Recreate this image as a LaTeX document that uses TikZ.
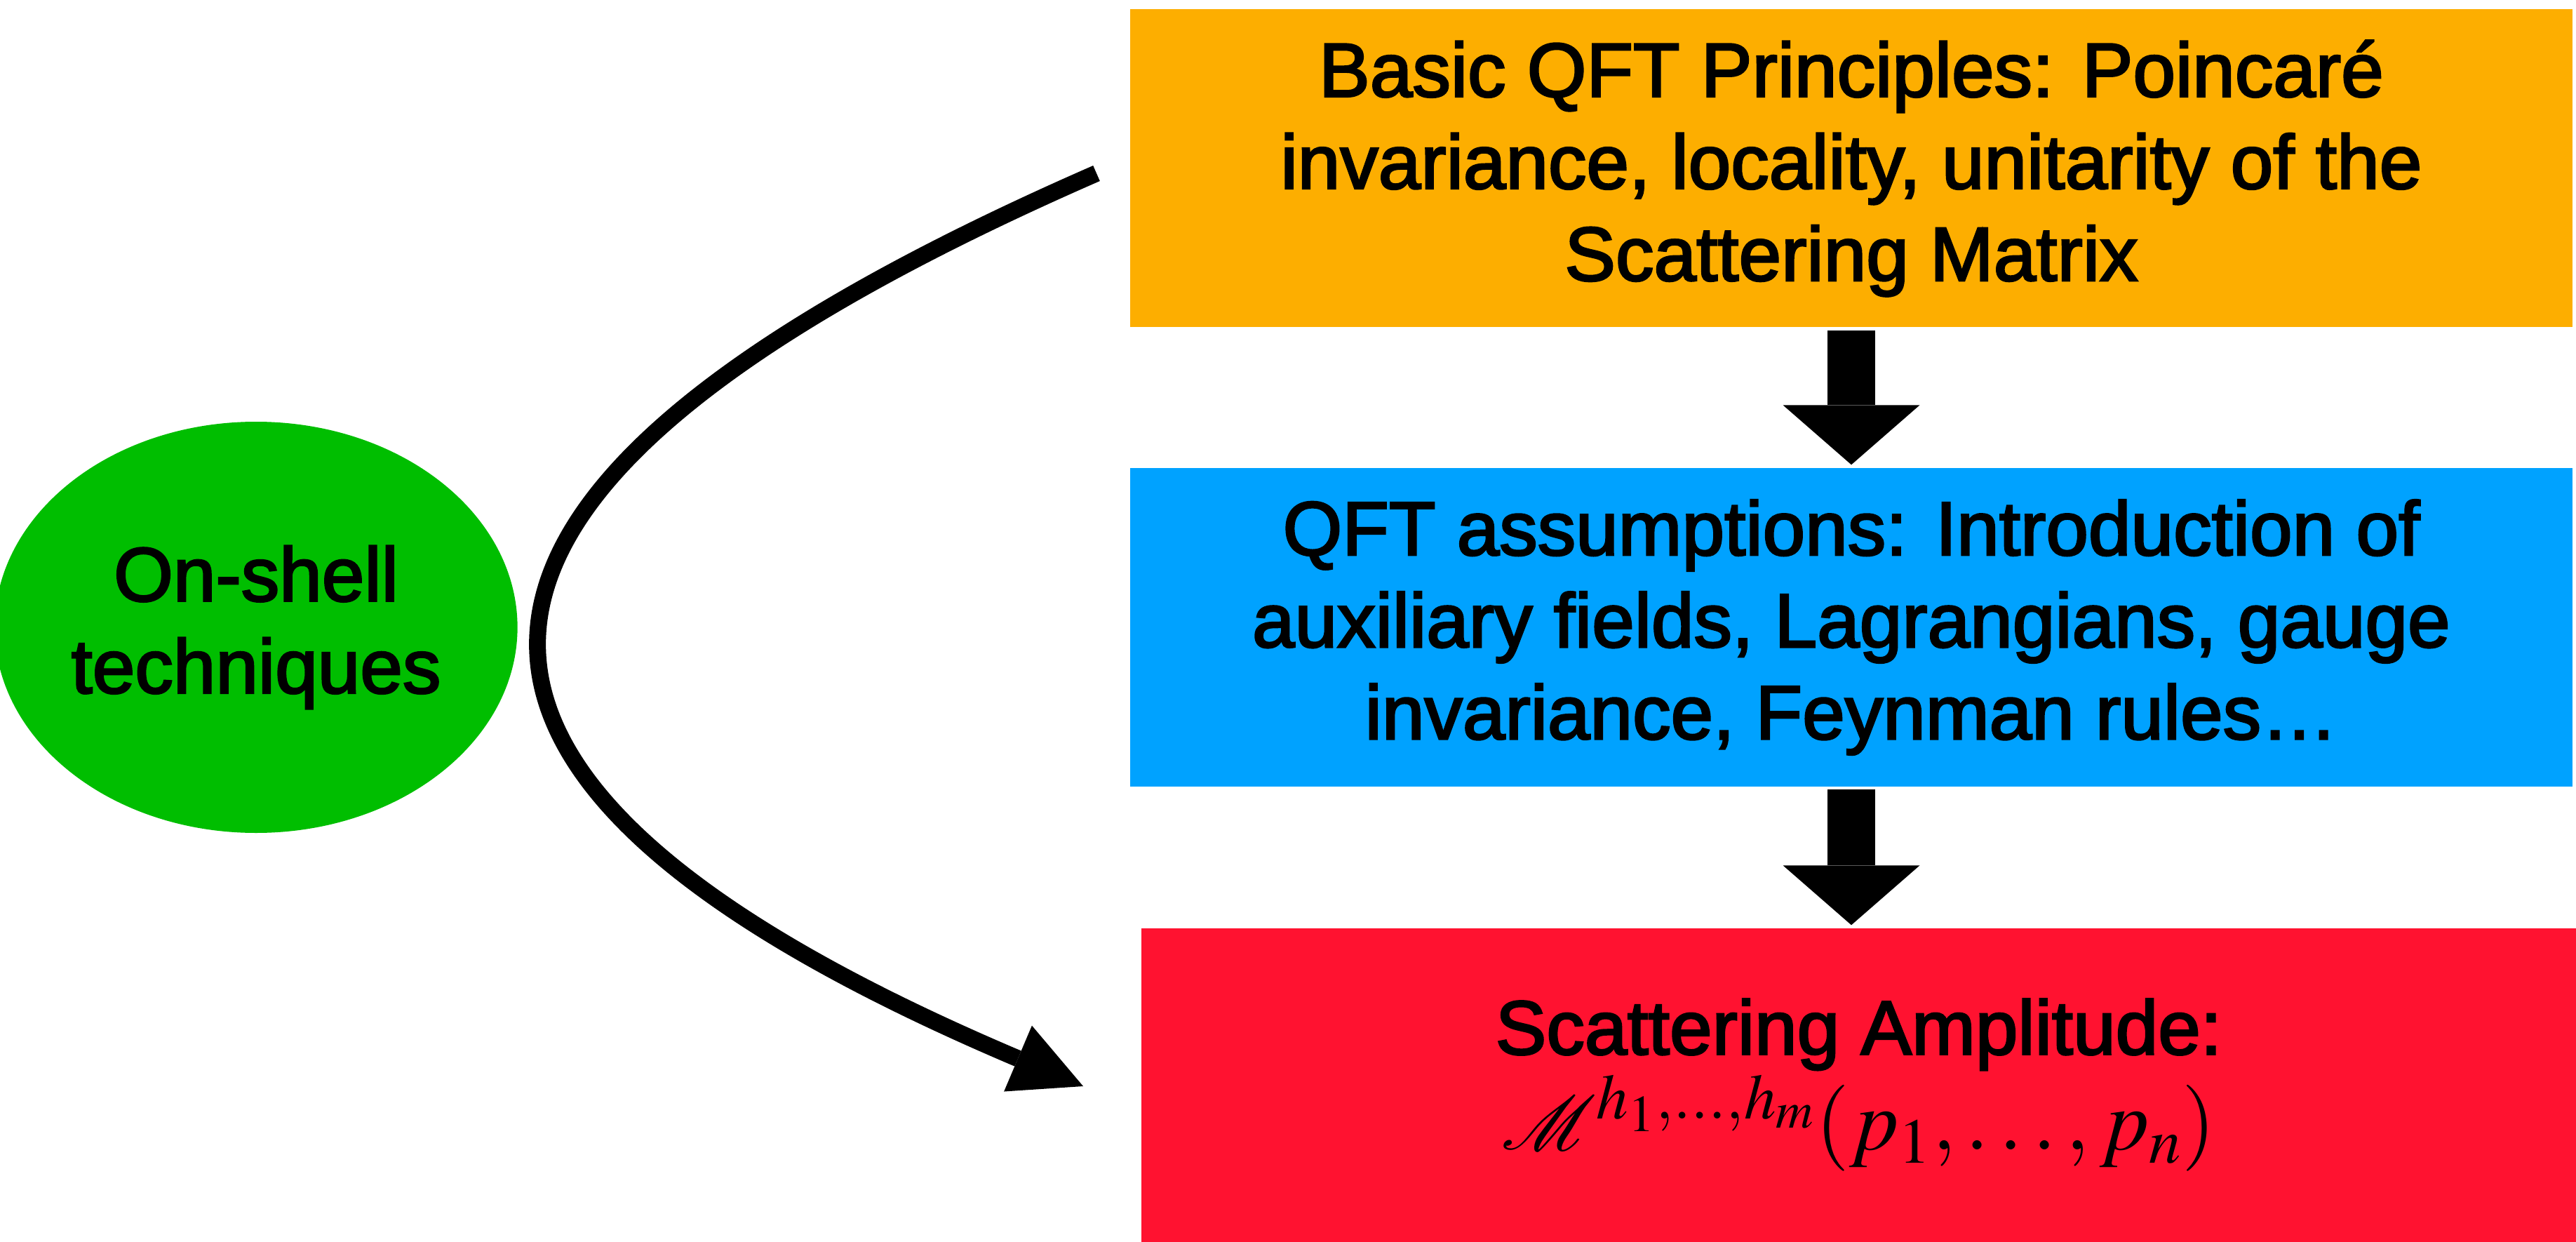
\documentclass[tikz,border=0pt]{standalone}
\usepackage{mathptmx}
\usepackage{mathrsfs}
\usepackage{graphicx}
\usepackage[no-math]{fontspec}
\setmainfont{Liberation Sans}[FakeBold=2.5]
\newfontfamily\boxfont{Liberation Sans}[FakeBold=2.5]
\usetikzlibrary{arrows.meta,calc,shapes.geometric}
\definecolor{boxorange}{RGB}{253,174,0}
\definecolor{boxblue}{RGB}{0,162,255}
\definecolor{boxred}{RGB}{255,18,48}
\definecolor{boxgreen}{RGB}{0,190,0}
\tikzset{
  box/.style={draw=none, inner sep=0pt, align=center, text=black,
    font=\boxfont\fontsize{31}{37.3}\selectfont},
  blockarrow/.style={line width=0.68cm, draw=black,
    -{Triangle[length=0.85cm, width=1.95cm, line width=0pt]}},
  curvearrow/.style={line width=0.24cm, draw=black,
    -{Triangle[length=1.01cm, width=1.02cm, line width=0pt]}}
}
\begin{document}
\begin{tikzpicture}
\useasboundingbox (0,0) rectangle (36.72,-17.70);
\node[box, fill=boxorange, minimum width=20.56cm, minimum height=4.53cm] (orange) at (26.39,-2.40)
  {Basic QFT Principles: Poincaré\\invariance, locality, unitarity of the\\Scattering Matrix};
\node[box, fill=boxblue, minimum width=20.56cm, minimum height=4.54cm] (blue) at (26.39,-8.94)
  {QFT assumptions: Introduction of\\auxiliary fields, Lagrangians, gauge\\invariance, Feynman rules…};
\node[box, fill=boxred, minimum width=20.45cm, minimum height=4.47cm] (red) at (26.495,-15.465)
  {Scattering Amplitude:\\[0.05cm]{\fontsize{35}{41}\selectfont$\scalebox{1.25}{$\mathscr{M}$}^{h_1,\ldots,h_m}(p_1,\ldots,p_n)$}};
\node[box, ellipse, fill=boxgreen, minimum width=6.84cm, minimum height=5.86cm] (onshell) at (3.65,-8.94)
  {On-shell\\techniques};
\draw[blockarrow] ($(orange.south)+(0,-0.04)$) -- ($(blue.north)+(0,0.04)$);
\draw[blockarrow] ($(blue.south)+(0,-0.03)$) -- ($(blue.south |- red.north)+(0,0.04)$);
\coordinate (cstart) at (15.63,-2.47);
\coordinate (cend) at (15.44,-15.48);
\draw[curvearrow] (cstart) .. controls (5.37,-6.95) and (5.04,-11.07) .. (cend);
\end{tikzpicture}
\end{document}
